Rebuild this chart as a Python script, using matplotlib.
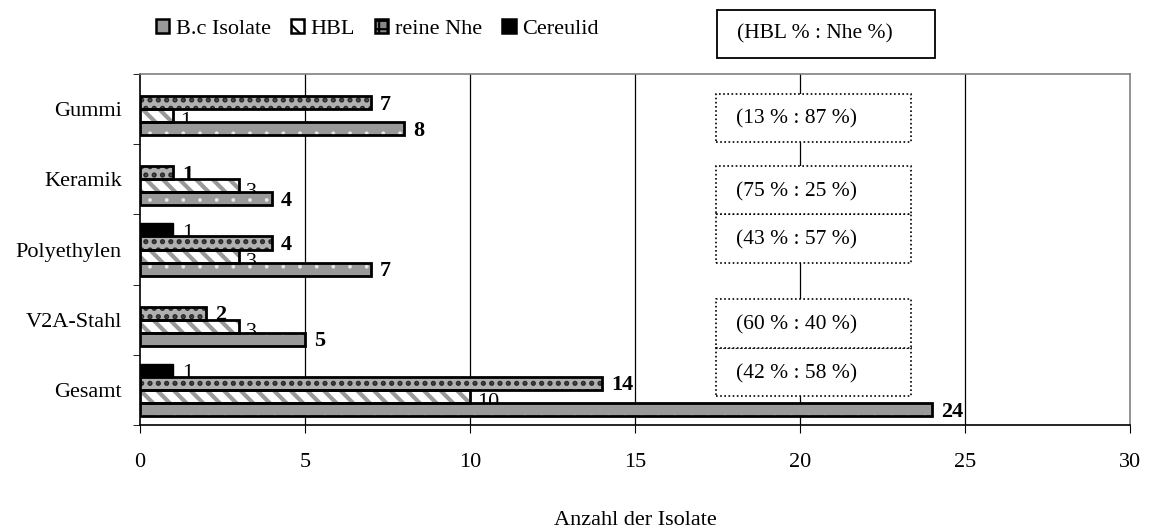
import numpy as np
import matplotlib
matplotlib.use("Agg")
import matplotlib.pyplot as plt
from matplotlib.patches import Patch, Rectangle

plt.rcParams["font.family"] = ["Liberation Serif", "DejaVu Serif"]

# Gesamt at the bottom, Gummi at the top
categories = ["Gesamt", "V2A-Stahl", "Polyethylen", "Keramik", "Gummi"]
bc_isolate = [24, 5, 7, 4, 8]
hbl = [10, 3, 3, 3, 1]
reine_nhe = [14, 2, 4, 1, 7]
cereulid = [1, 0, 1, 0, 0]
ratio_labels = ["(42 % : 58 %)", "(60 % : 40 %)", "(43 % : 57 %)",
                "(75 % : 25 %)", "(13 % : 87 %)"]
ratio_boxes = [(-0.09, 0.69), (0.60, 0.69), (1.81, 0.69), (2.50, 0.69), (3.53, 0.69)]

fig = plt.figure(figsize=(11.49, 5.29), dpi=100)
ax = fig.add_axes([0.1218, 0.1966, 0.8617, 0.6635])

y = np.arange(len(categories))
h = 0.186
FS = 16


def hatched_bars(ypos, vals, face, hatch, hcolor, hlw):
    plt.rcParams["hatch.linewidth"] = hlw
    ax.barh(ypos, vals, height=h, color=face, edgecolor=hcolor, hatch=hatch,
            linewidth=0, zorder=3)
    ax.barh(ypos, vals, height=h, fill=False, edgecolor="black", linewidth=2, zorder=4)


hatched_bars(y - 1.5 * h, bc_isolate, "#999999", ".", "#e8e8e8", 0.3)
hatched_bars(y - 0.5 * h, hbl, "white", "\\\\", "#999999", 3.0)
hatched_bars(y + 0.5 * h, reine_nhe, "#b0b0b0", "..", "#2a2a2a", 2.5)
cer_y = [yy + 1.5 * h for yy, v in zip(y, cereulid) if v > 0]
cer_v = [v for v in cereulid if v > 0]
ax.barh(cer_y, cer_v, height=h, color="black", edgecolor="black", linewidth=1, zorder=4)

# value labels: bold for B.c / Nhe, plain for HBL / Cereulid
for yy, v in zip(y, bc_isolate):
    ax.text(v + 0.27, yy - 1.5 * h - 0.03, str(v), fontsize=FS, fontweight="bold",
            va="center", ha="left", zorder=5)
for yy, v in zip(y, reine_nhe):
    ax.text(v + 0.27, yy + 0.5 * h - 0.03, str(v), fontsize=FS, fontweight="bold",
            va="center", ha="left", zorder=5)
for yy, v in zip(y, hbl):
    ax.text(v + 0.22, yy - 0.5 * h - 0.09, str(v), fontsize=FS, va="center",
            ha="left", zorder=2)
for yy, v in zip(y, cereulid):
    if v > 0:
        ax.text(v + 0.27, yy + 1.5 * h - 0.05, str(v), fontsize=FS, va="center",
                ha="left", zorder=2)

# HBL : Nhe ratio boxes
for (y0, bh), txt in zip(ratio_boxes, ratio_labels):
    ax.add_patch(Rectangle((17.45, y0), 5.9, bh, facecolor="white", edgecolor="black",
                           linestyle=(0, (1, 1.5)), linewidth=1.2, zorder=3))
    ax.text(17.45 + 0.62, y0 + bh / 2 - 0.02, txt, fontsize=15.5, va="center",
            ha="left", zorder=4)

ax.set_xlim(0, 30)
ax.set_ylim(-0.5, 4.5)
ax.set_xticks(range(0, 31, 5))
ax.set_yticks(y)
ax.set_yticklabels(categories, fontsize=FS)
ax.set_yticks(np.arange(-0.5, 5, 1), minor=True)
ax.tick_params(axis="y", which="major", length=0, pad=13)
ax.tick_params(axis="y", which="minor", length=5, direction="out")
ax.tick_params(axis="x", length=6, direction="out", labelsize=FS, pad=14)
for xv in range(5, 30, 5):
    ax.axvline(xv, color="black", linewidth=0.9, zorder=1)
ax.spines["top"].set_color("#808080")
ax.spines["right"].set_color("#808080")
for s in ax.spines.values():
    s.set_linewidth(1.2)
ax.set_xlabel("Anzahl der Isolate", fontsize=FS, labelpad=28)

plt.rcParams["hatch.linewidth"] = 1.5
handles = [
    Patch(facecolor="#999999", edgecolor="black", linewidth=1.8),
    Patch(facecolor="white", edgecolor="black", hatch="\\\\", linewidth=1.8),
    Patch(facecolor="#888888", edgecolor="black", hatch="++", linewidth=1.8),
    Patch(facecolor="black", edgecolor="black", linewidth=1.8),
]
fig.legend(handles, ["B.c Isolate", "HBL", "reine Nhe", "Cereulid"],
           loc="upper left", bbox_to_anchor=(0.122, 0.993), ncol=4, frameon=False,
           fontsize=FS, handlelength=0.6, handleheight=0.6, handletextpad=0.3,
           columnspacing=0.9, borderaxespad=0.3)

# header box for the ratio column
fig.add_artist(Rectangle((0.624, 0.8904), 0.1897, 0.0906, transform=fig.transFigure,
                         facecolor="white", edgecolor="black", linewidth=1.3))
fig.text(0.6414, 0.9357, "(HBL % : Nhe %)", fontsize=15.5, va="center", ha="left")

fig.savefig("out.png", dpi=100)
